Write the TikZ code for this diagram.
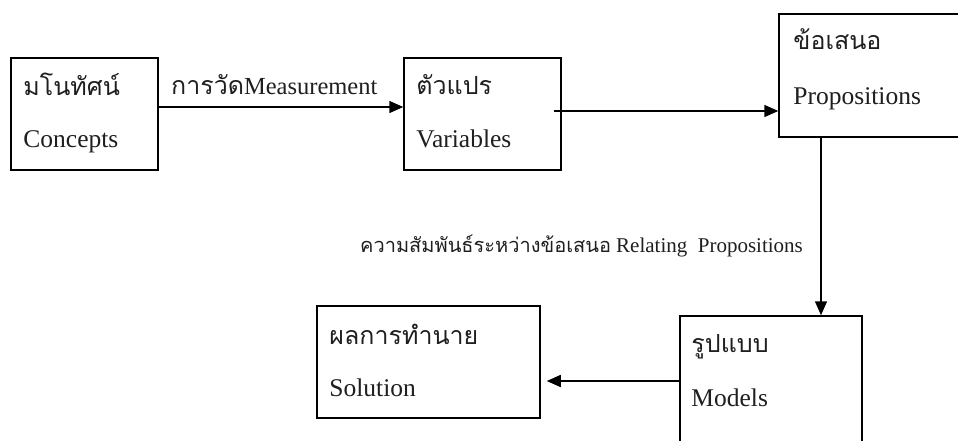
\documentclass[tikz,border=0pt]{standalone}
\usepackage{fontspec}
\setmainfont{Liberation Serif}
\newfontfamily\thaifont[Script=Thai]{Loma}
\usetikzlibrary{arrows.meta}
\newcommand{\thbig}{\thaifont\fontsize{25}{28}\selectfont}
\newcommand{\thsmall}{\thaifont\fontsize{20}{24}\selectfont}
\tikzset{
  box/.style={draw=black, line width=1.5pt, inner sep=0pt, fill=white},
  thai/.style={anchor=base west, inner sep=0pt, font=\thbig, text=black!88},
  latin/.style={anchor=base west, inner sep=0pt, font=\fontsize{25.5}{28}\selectfont, text=black!88},
  arr/.style={line width=1.5pt, -{Triangle[length=14pt,width=12pt]}},
}
\begin{document}
\begin{tikzpicture}[x=1pt,y=-1pt]
\clip (0,0) rectangle (958,441);
\fill[white] (0,0) rectangle (958,441);
% boxes
\node[box, minimum width=147pt, minimum height=112pt] (c1) at (84.5,114) {};
\node[box, minimum width=157pt, minimum height=112pt] (c2) at (482.5,114) {};
\node[box, minimum width=190pt, minimum height=123pt] (c3) at (874,75.5) {};
\node[box, minimum width=182pt, minimum height=140pt] (c4) at (771,386) {};
\node[box, minimum width=223pt, minimum height=112pt] (c5) at (428.5,362) {};
% texts
\node[thai] (t1) at ([xshift=13pt,yshift=-38pt]c1.north west) {มโนทัศน์};
\node[latin] (l1) at ([xshift=13pt,yshift=-90pt]c1.north west) {Concepts};
\node[thai] (t2) at ([xshift=13pt,yshift=-37pt]c2.north west) {ตัวแปร};
\node[latin] (l2) at ([xshift=13pt,yshift=-90pt]c2.north west) {Variables};
\node[thai] (t3) at ([xshift=15pt,yshift=-36pt]c3.north west) {ข้อเสนอ};
\node[latin] (l3) at ([xshift=15pt,yshift=-91pt]c3.north west) {Propositions};
\node[thai] (t4) at ([xshift=12pt,yshift=-37pt]c4.north west) {รูปแบบ};
\node[latin] (l4) at ([xshift=12pt,yshift=-91pt]c4.north west) {Models};
\node[thai] (t5) at ([xshift=13pt,yshift=-39pt]c5.north west) {ผลการทำนาย};
\node[latin] (l5) at ([xshift=13pt,yshift=-91pt]c5.north west) {Solution};
% labels
\node[latin, font=\fontsize{24.5}{28}\selectfont] (m) at (171,95) {{\thbig การวัด}Measurement};
\node[latin, font=\fontsize{21}{24}\selectfont] (r) at (360,252) {{\thsmall ความสัมพันธ์ระหว่างข้อเสนอ} Relating\ \ Propositions};
% connectors
\draw[arr] ([yshift=7pt]c1.east) -- ([yshift=7pt]c2.west);
\path ([xshift=-8pt,yshift=3pt]c2.east) coordinate (p2);
\draw[arr] (p2) -- (p2 -| c3.west);
\path ([xshift=-53pt]c3.south) coordinate (p3);
\draw[arr] (p3) -- (p3 |- c4.north);
\path (c4.west |- 0,381) coordinate (p4);
\draw[arr] (p4) -- ([xshift=6pt]c5.east |- p4);
\end{tikzpicture}
\end{document}
